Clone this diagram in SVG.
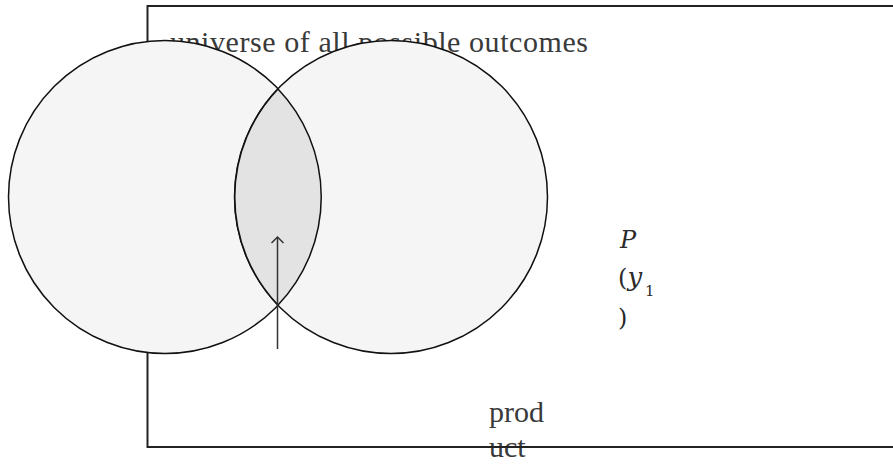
<svg xmlns="http://www.w3.org/2000/svg" width="893" height="464" viewBox="0 0 893 464">
<style>
.lbl{font-family:"Liberation Serif","Times New Roman",serif;fill:#3a3a3a;font-size:30px}
.m{font-family:"DejaVu Serif","Liberation Serif",serif;fill:#2a2a2a;font-size:24px}
.it{font-style:italic}
.circ{fill:#f5f5f5;stroke:#111;stroke-width:1.5}
</style>
<rect width="893" height="464" fill="#ffffff"/>
<g id="universe">
<rect x="147.5" y="6" width="760" height="441" fill="#ffffff" stroke="#222" stroke-width="2"/>
<text class="lbl" x="170" y="52" textLength="418" lengthAdjust="spacing">universe of all possible outcomes</text>
</g>
<g id="circleA">
<circle class="circ" cx="165" cy="197" r="156.5"/>
</g>
<g id="circleB">
<circle class="circ" cx="391" cy="197" r="156.5"/>
</g>
<g id="intersection">
<path d="M278,89 A156.5,156.5 0 0 1 278,305 A156.5,156.5 0 0 1 278,89 Z" fill="#e3e3e3" stroke="#111" stroke-width="1.5"/>
</g>
<g id="connectors">
<line x1="277.5" y1="349" x2="277.5" y2="237" stroke="#333" stroke-width="1.5"/>
<polyline points="271.5,243 277.5,237 283.5,243" fill="none" stroke="#333" stroke-width="1.5"/>
</g>
<g id="prob">
<text class="m it" x="620" y="248">P</text>
<text class="m" x="618" y="286">(<tspan class="it" font-size="26">y</tspan></text>
<text x="645" y="296" style="font-family:'DejaVu Serif',serif;font-size:15px;fill:#2a2a2a">1</text>
<text class="m" x="618" y="326">)</text>
</g>
<g id="product">
<text class="lbl" x="489" y="422">prod</text>
<text class="lbl" x="489" y="457">uct</text>
<line x1="147" y1="447" x2="893" y2="447" stroke="#222" stroke-width="2"/>
</g>
</svg>
